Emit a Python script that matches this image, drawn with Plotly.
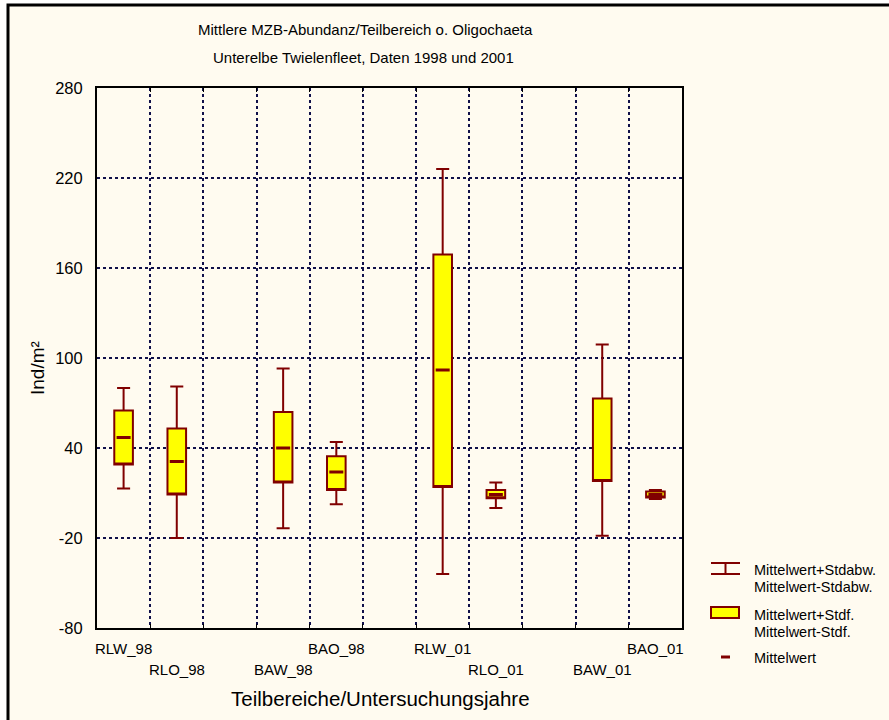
import plotly.graph_objects as go

# ---------------- data ----------------
categories = ["RLW_98", "RLO_98", " ", "BAW_98", "BAO_98", "  ",
              "RLW_01", "RLO_01", "   ", "BAW_01", "BAO_01"]
groups = ["RLW_98", "RLO_98", "BAW_98", "BAO_98", "RLW_01", "RLO_01", "BAW_01", "BAO_01"]
mean_vals = [47, 31, 40, 24, 92, 9, None, 9]
se_low = [29, 9, 17, 12, 14, 6.5, 18, 7]        # Mittelwert-Stdf.
se_high = [65, 53, 64, 34.5, 169, 12, 73, 11]    # Mittelwert+Stdf.
sd_low = [13, -20, -13.5, 2.5, -44, 0, -18.5, 6]  # Mittelwert-Stdabw.
sd_high = [80, 81, 93, 44, 226, 17, 109, 12]     # Mittelwert+Stdabw.
label_row = [0, 1, 1, 0, 0, 1, 1, 0]             # staggered tick label rows
y_ticks = [-80, -20, 40, 100, 160, 220, 280]

# ---------------- styles ----------------
DARKRED = "#800000"
YELLOW = "#FFFF00"
PLOTBG = "#A6CAF0"
CREAM = "#FFFBF0"
GRID = "#10104A"
FONT = "Liberation Sans, Arial, sans-serif"

W, H = 889, 720
L, R, T, B = 97, 207, 88, 92
PW, PH = W - L - R, H - T - B


def px(xp):
    return (xp - L) / PW


def py(yp):
    return 1 - (yp - T) / PH


fig = go.Figure()

fig.add_trace(go.Box(
    x=groups,
    q1=se_low,
    median=se_low,
    q3=se_high,
    lowerfence=sd_low,
    upperfence=sd_high,
    width=0.35,
    whiskerwidth=0.7,
    fillcolor=YELLOW,
    line=dict(color=DARKRED, width=2),
    boxpoints=False,
    showlegend=False,
    hoverinfo="skip",
))

fig.add_trace(go.Scatter(
    x=groups,
    y=mean_vals,
    mode="markers",
    marker=dict(symbol="line-ew", size=10, line=dict(color=DARKRED, width=3)),
    showlegend=False,
    hoverinfo="skip",
))

shapes = []
# outer frame
shapes.append(dict(type="rect", xref="paper", yref="paper",
                   x0=px(8), x1=px(W + 20), y0=py(H + 20), y1=py(5),
                   line=dict(color="black", width=3), fillcolor=CREAM, layer="below"))

# legend symbols
shapes += [
    dict(type="line", xref="paper", yref="paper", x0=px(711), x1=px(740), y0=py(563), y1=py(563),
         line=dict(color=DARKRED, width=2)),
    dict(type="line", xref="paper", yref="paper", x0=px(711), x1=px(740), y0=py(574), y1=py(574),
         line=dict(color=DARKRED, width=2)),
    dict(type="line", xref="paper", yref="paper", x0=px(725.5), x1=px(725.5), y0=py(563), y1=py(574),
         line=dict(color=DARKRED, width=2)),
    dict(type="rect", xref="paper", yref="paper", x0=px(711), x1=px(739), y0=py(618), y1=py(607),
         line=dict(color=DARKRED, width=2), fillcolor=YELLOW),
    dict(type="line", xref="paper", yref="paper", x0=px(721), x1=px(730), y0=py(657), y1=py(657),
         line=dict(color=DARKRED, width=3)),
]

annotations = []


def ann(text, x, y, size, xref="paper", xanchor="center", **kw):
    annotations.append(dict(text=text, xref=xref, yref="paper", x=x, y=y,
                            xanchor=xanchor, yanchor="middle", showarrow=False,
                            font=dict(size=size, color="black"), **kw))


# titles
ann("Mittlere MZB-Abundanz/Teilbereich o. Oligochaeta", px(365), py(29), 15)
ann("Unterelbe Twielenfleet, Daten 1998 und 2001", px(363), py(58), 15)
# axis titles
ann("Teilbereiche/Untersuchungsjahre", px(380), py(698), 20.5)
ann("Ind/m²", px(37), py(368), 19, textangle=-90)
# staggered category labels
for g, row in zip(groups, label_row):
    ann(g, g, py(648 + 21 * row), 15, xref="x")
# legend texts
for text, yy in [("Mittelwert+Stdabw.", 570), ("Mittelwert-Stdabw.", 587),
                 ("Mittelwert+Stdf.", 615), ("Mittelwert-Stdf.", 632), ("Mittelwert", 658)]:
    ann(text, px(752), py(yy), 14.5, xanchor="left")

fig.update_layout(
    width=W, height=H,
    margin=dict(l=L, r=R, t=T, b=B, pad=0),
    paper_bgcolor="white",
    plot_bgcolor=PLOTBG,
    font=dict(family=FONT, color="black"),
    shapes=shapes,
    annotations=annotations,
    showlegend=False,
)

fig.update_xaxes(
    type="category", categoryorder="array", categoryarray=categories,
    range=[-0.5, len(categories) - 0.5],
    tickson="boundaries", showgrid=True, gridcolor=GRID, griddash="dot", gridwidth=1.5,
    showticklabels=False, ticks="inside", ticklen=4, tickcolor="black",
    showline=True, linecolor="black", linewidth=2, mirror="ticks", zeroline=False,
)
fig.update_yaxes(
    range=[-80, 280], tickvals=y_ticks, ticktext=[str(v) for v in y_ticks],
    showgrid=True, gridcolor=GRID, griddash="dot", gridwidth=1.5,
    tickfont=dict(size=16.5), ticks="", ticklabelstandoff=9,
    showline=True, linecolor="black", linewidth=2, mirror=True, zeroline=False,
)

fig.write_html("out.html", config={"displayModeBar": False},
               post_script="document.body.style.margin='0px';document.body.style.overflow='hidden';")
